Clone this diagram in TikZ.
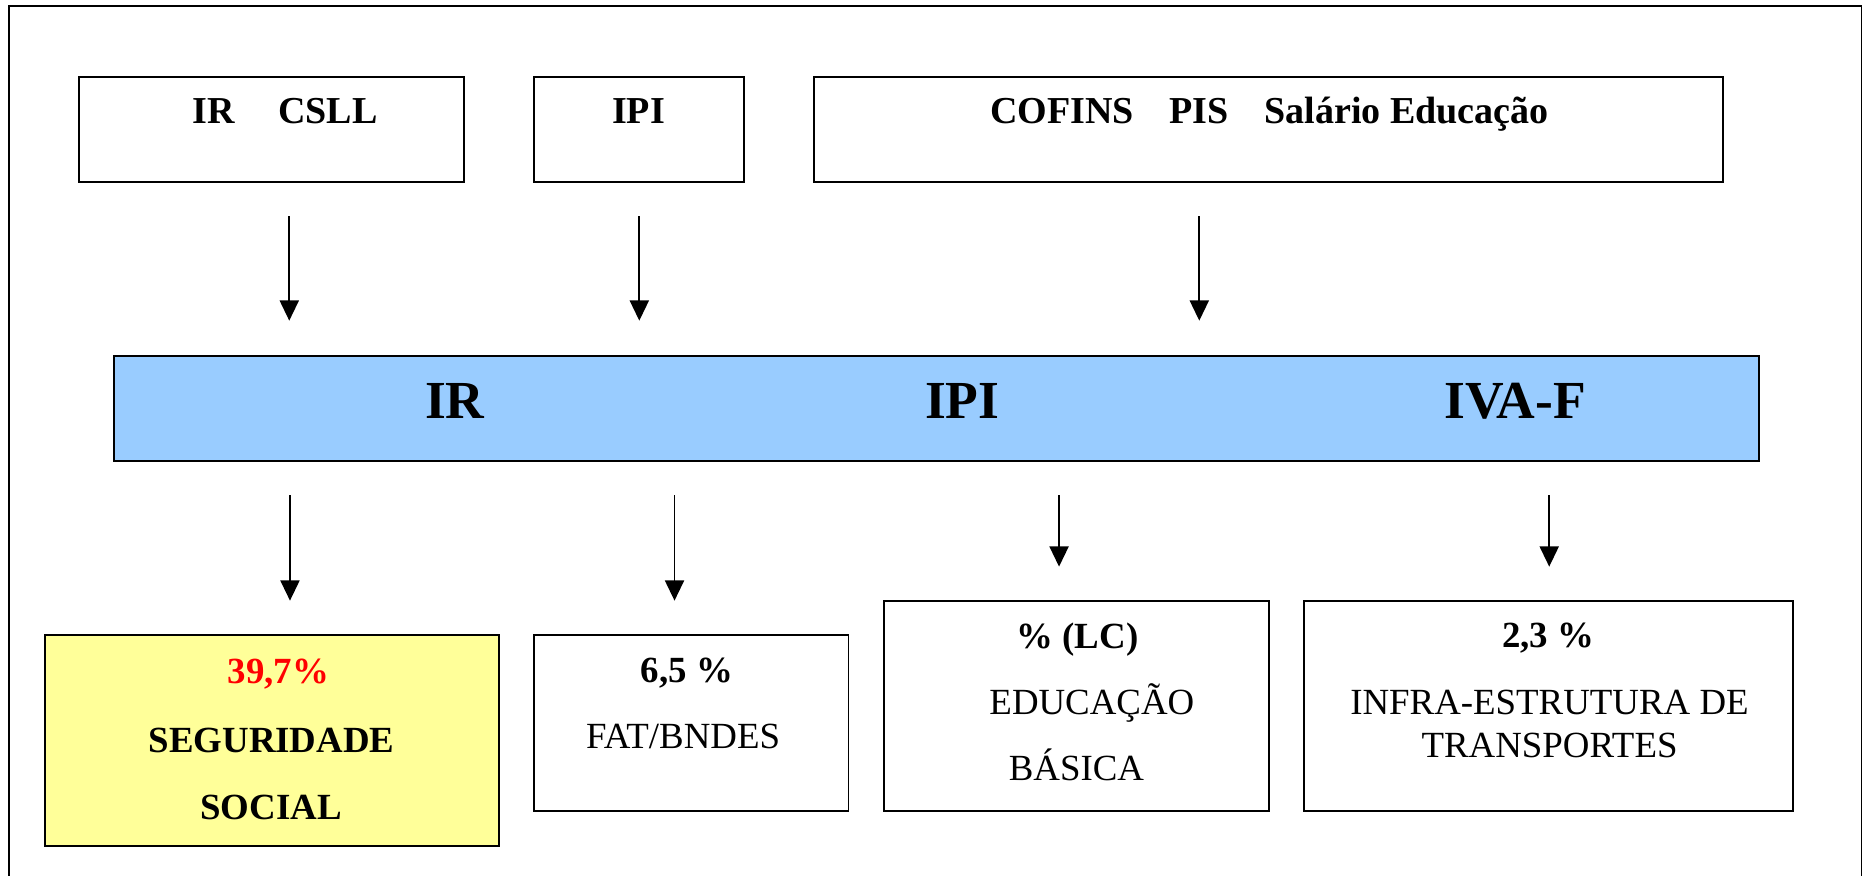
\documentclass[tikz,border=0pt]{standalone}
\usepackage{fontspec}
\setmainfont{Liberation Serif}
\usetikzlibrary{arrows.meta}
\definecolor{barblue}{HTML}{99CCFF}
\definecolor{padyellow}{HTML}{FFFF99}
\tikzset{>={Triangle[length=17pt,width=16pt]}}
\tikzset{
  box/.style={draw,line width=1.6pt,inner sep=0pt},
  lbl/.style={anchor=base,inner sep=0pt,font=\fontsize{31}{36}\selectfont},
  toplbl/.style={anchor=base,inner sep=0pt,font=\fontsize{32}{38}\selectfont\bfseries},
  barlbl/.style={anchor=base,inner sep=0pt,font=\fontsize{45}{54}\selectfont\bfseries},
  flow/.style={->,line width=1.5pt}
}

\begin{document}
\begin{tikzpicture}[x=1pt,y=-1pt]
\useasboundingbox (0,0) rectangle (1568,736);

% Outer frame, its lower edge is off the page
\draw[line width=1.6pt] (7.7,745) -- (7.7,5.3) -- (1565,5.3) -- (1565,745);

% Source boxes
\node[box,minimum width=323.5pt,minimum height=88.3pt] (irsrc) at (228.25,108.65) {};
\node[box,minimum width=176.7pt,minimum height=88.3pt] (ipisrc) at (537.05,108.65) {};
\node[box,minimum width=764.4pt,minimum height=88.3pt] (cofsrc) at (1066.2,108.65) {};
\node[toplbl] (irsrctxt) at (239.8,103.7) {IR\hspace{36pt}CSLL};
\node[toplbl] (ipisrctxt) at (536.8,103.7) {IPI};
\node[toplbl] (cofsrctxt) at (1067.3,103.7) {COFINS\hspace{30pt}PIS\hspace{30pt}Salário Educação};

% Arrows down to the bar
\coordinate (t1s) at (243.2,181.6);  \coordinate (t1e) at (243.2,269.6);
\coordinate (t2s) at (537.5,181.6);  \coordinate (t2e) at (537.5,269.6);
\coordinate (t3s) at (1008.3,181.6); \coordinate (t3e) at (1008.3,269.6);
\foreach \n in {t1,t2,t3}
  \draw[flow] (\n s) -- (\n e);

% New taxes bar
\node[box,fill=barblue,minimum width=1383pt,minimum height=88.3pt] (bar) at (787.5,343.45) {};
\node[barlbl] (irtax) at (382.4,351.7) {IR};
\node[barlbl] (ipitax) at (809,351.7) {IPI};
\node[barlbl] (ivatax) at (1273.8,351.7) {IVA-F};

% Arrows down to the shares
\coordinate (b1s) at (243.8,416.2); \coordinate (b1e) at (243.8,505);
\coordinate (b2s) at (567.1,416.2); \coordinate (b2e) at (567.1,505);
\coordinate (b3s) at (890.4,416.2); \coordinate (b3e) at (890.4,476.4);
\coordinate (b4s) at (1302.5,416.2); \coordinate (b4e) at (1302.5,476.4);
\foreach \n in {b1,b2,b3,b4}
  \draw[flow] (\n s) -- (\n e);

% Shares
\node[box,fill=padyellow,minimum width=382.3pt,minimum height=177.1pt] (segbox) at (228.75,622.45) {};
\node[lbl,font=\fontsize{31}{36}\selectfont\bfseries,text=red] (segpct) at (234,575) {39,7\%};
\node[lbl,font=\fontsize{31}{36}\selectfont\bfseries] (segtxta) at (228.3,632.8) {SEGURIDADE};
\node[lbl,font=\fontsize{31}{36}\selectfont\bfseries] (segtxtb) at (228,688.9) {SOCIAL};

\node[box,minimum width=264.5pt,minimum height=147.7pt] (fatbox) at (581.15,607.75) {};
\node[lbl,font=\fontsize{31}{36}\selectfont\bfseries] (fatpct) at (577.5,574) {6,5 \%};
\node[lbl] (fattxt) at (574.3,629.4) {FAT/BNDES};

\node[box,minimum width=324pt,minimum height=176.6pt] (edubox) at (905,593.3) {};
\node[lbl,font=\fontsize{31}{36}\selectfont\bfseries] (edupct) at (905.8,545) {\% (LC)};
\node[lbl] (edutxta) at (918,600.6) {EDUCAÇÃO};
\node[lbl] (edutxtb) at (905,656.6) {BÁSICA};

\node[box,minimum width=410.5pt,minimum height=176.6pt] (infbox) at (1301.95,593.3) {};
\node[lbl,font=\fontsize{31}{36}\selectfont\bfseries] (infpct) at (1301.7,544.6) {2,3 \%};
\node[lbl] (inftxta) at (1302.7,600.6) {INFRA-ESTRUTURA DE};
\node[lbl] (inftxtb) at (1302.8,637) {TRANSPORTES};
\end{tikzpicture}
\end{document}
